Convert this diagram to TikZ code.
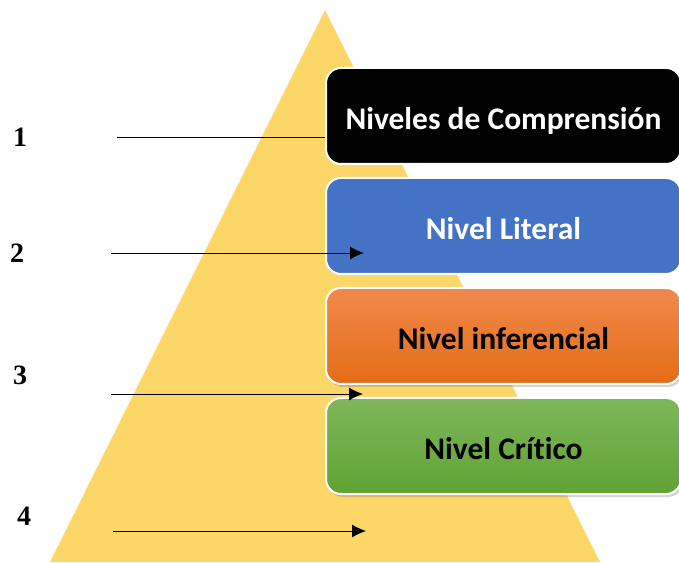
\documentclass[tikz,border=0pt]{standalone}
\usepackage{fontspec}
\setmainfont{Liberation Serif}
\newfontfamily\boxfont[Ligatures=NoCommon]{Carlito}
\usepackage{tikz}
\usetikzlibrary{positioning,arrows.meta,shadows}
\definecolor{pyryellow}{RGB}{253,214,104}
\definecolor{lvlblue}{RGB}{68,114,196}
\definecolor{lvlorangetop}{RGB}{241,137,76}
\definecolor{lvlorangebot}{RGB}{228,108,22}
\definecolor{lvlgreentop}{RGB}{126,183,90}
\definecolor{lvlgreenbot}{RGB}{96,163,52}
\tikzstyle{levelblock} = [rectangle, rounded corners=15pt, minimum width=355pt, minimum height=96pt, text centered, draw=white, line width=2pt, text height=27pt, text depth=0pt, font=\boxfont\bfseries\fontsize{31.5}{34}\selectfont]
\tikzstyle{numlabel} = [font=\bfseries\fontsize{28}{30}\selectfont]
\tikzstyle{line} = [draw, line width=0.9pt, -{Latex[length=14pt,width=13pt]}]
\tikzstyle{plainline} = [draw, line width=0.9pt]

\begin{document}
\begin{tikzpicture}[x=1pt, y=1pt]
				\useasboundingbox (0,0) rectangle (679,562);
				% Pyramid
				\fill [pyryellow] (50,0) -- (600,0) -- (325,552) -- cycle;
				% Place nodes
				\node [levelblock, fill=black, text=white] (comp) at (503.5,446) {Niveles de Comprensión};
				\node [levelblock, fill=lvlblue, text=white, below = 12pt of comp] (literal) {Nivel Literal};
				\node [levelblock, top color=lvlorangetop, bottom color=lvlorangebot, drop shadow={shadow xshift=2pt, shadow yshift=-3pt, opacity=0.35}, below = 12pt of literal] (infer) {Nivel inferencial};
				\node [levelblock, top color=lvlgreentop, bottom color=lvlgreenbot, drop shadow={shadow xshift=2pt, shadow yshift=-3pt, opacity=0.35}, below = 12pt of infer] (critic) {Nivel Crítico};
				\node [numlabel] (n1) at (20,425) {1};
				\node [numlabel] (n2) at (17,309) {2};
				\node [numlabel] (n3) at (20,187) {3};
				\node [numlabel] (n4) at (24,46) {4};
				% Arrow ends
				\coordinate (s1) at (117,425);
				\coordinate (s2) at (111,309);
				\coordinate (e2) at (364,309);
				\coordinate (s3) at (111,168);
				\coordinate (e3) at (363,168);
				\coordinate (s4) at (113,31);
				\coordinate (e4) at (366,31);
				\path [plainline] (s1) -- (s1 -| comp.west);
				\path [line] (s2) -- (e2);
				\path [line] (s3) -- (e3);
				\path [line] (s4) -- (e4);
\end{tikzpicture}
\end{document}
